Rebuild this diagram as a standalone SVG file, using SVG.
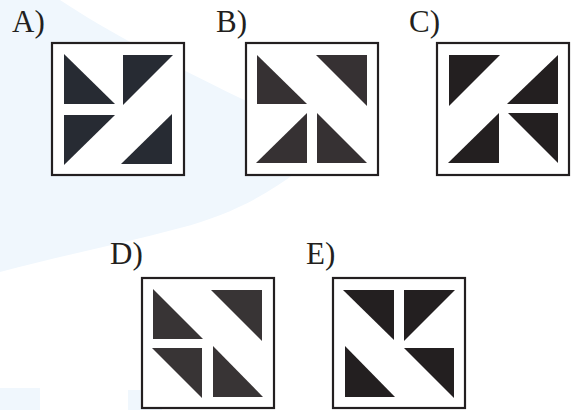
<svg xmlns="http://www.w3.org/2000/svg" width="571" height="410" viewBox="0 0 571 410">
<style>
.bg{fill:#ffffff}
.wm{fill:#f0f7fd}
.frame{fill:#ffffff;stroke:#231f20;stroke-width:2.2}
.lbl{font-family:"Liberation Serif","Times New Roman",serif;font-size:31px;fill:#231f20}
.ta{fill:#272b33}
.tb{fill:#363133}
.tc{fill:#231f20}
.td{fill:#383435}
.te{fill:#231f20}
</style>
<rect class="bg" x="0" y="0" width="571" height="410"/>
<g id="watermark">
<path class="wm" d="M0,0 L60,0 C120,40 220,90 330,140 C300,175 250,210 180,228 C120,244 60,256 0,272 Z"/>
<rect class="wm" x="0" y="388" width="40" height="22"/>
<rect class="wm" x="128" y="390" width="34" height="20"/>
</g>
<g id="optA">
<text class="lbl" x="12" y="32">A)</text>
<g transform="translate(52,43)">
<rect class="frame" x="0" y="0" width="132" height="132"/>
<polygon class="ta" points="12,11 12,61 63,61"/>
<polygon class="ta" points="71,12 121,12 71,62"/>
<polygon class="ta" points="12,72 63,72 12,122"/>
<polygon class="ta" points="120,71 120,121 69,121"/>
</g>
</g>
<g id="optB">
<text class="lbl" x="216" y="32">B)</text>
<g transform="translate(246,43)">
<rect class="frame" x="0" y="0" width="132" height="132"/>
<polygon class="tb" points="11,12 11,61 61,61"/>
<polygon class="tb" points="70,12 121,12 121,63"/>
<polygon class="tb" points="61,70 61,120 10,120"/>
<polygon class="tb" points="71,70 71,120 121,120"/>
</g>
</g>
<g id="optC">
<text class="lbl" x="409" y="32">C)</text>
<g transform="translate(437,43)">
<rect class="frame" x="0" y="0" width="132" height="132"/>
<polygon class="tc" points="12,12 63,12 12,63"/>
<polygon class="tc" points="121,12 121,61 70,61"/>
<polygon class="tc" points="62,70 62,120 11,120"/>
<polygon class="tc" points="71,70 121,70 121,120"/>
</g>
</g>
<g id="optD">
<text class="lbl" x="110" y="264">D)</text>
<g transform="translate(142,278)">
<rect class="frame" x="0" y="0" width="132" height="130"/>
<polygon class="td" points="11,11 11,61 61,61"/>
<polygon class="td" points="69,12 120,12 120,63"/>
<polygon class="td" points="10,70 60,70 60,120"/>
<polygon class="td" points="71,68 71,119 121,119"/>
</g>
</g>
<g id="optE">
<text class="lbl" x="306" y="264">E)</text>
<g transform="translate(333,278)">
<rect class="frame" x="0" y="0" width="132" height="130"/>
<polygon class="te" points="10,12 61,12 61,62"/>
<polygon class="te" points="71,12 122,12 71,63"/>
<polygon class="te" points="12,68 12,119 62,119"/>
<polygon class="te" points="71,70 121,70 121,120"/>
</g>
</g>
<g id="connectors"/>
</svg>
